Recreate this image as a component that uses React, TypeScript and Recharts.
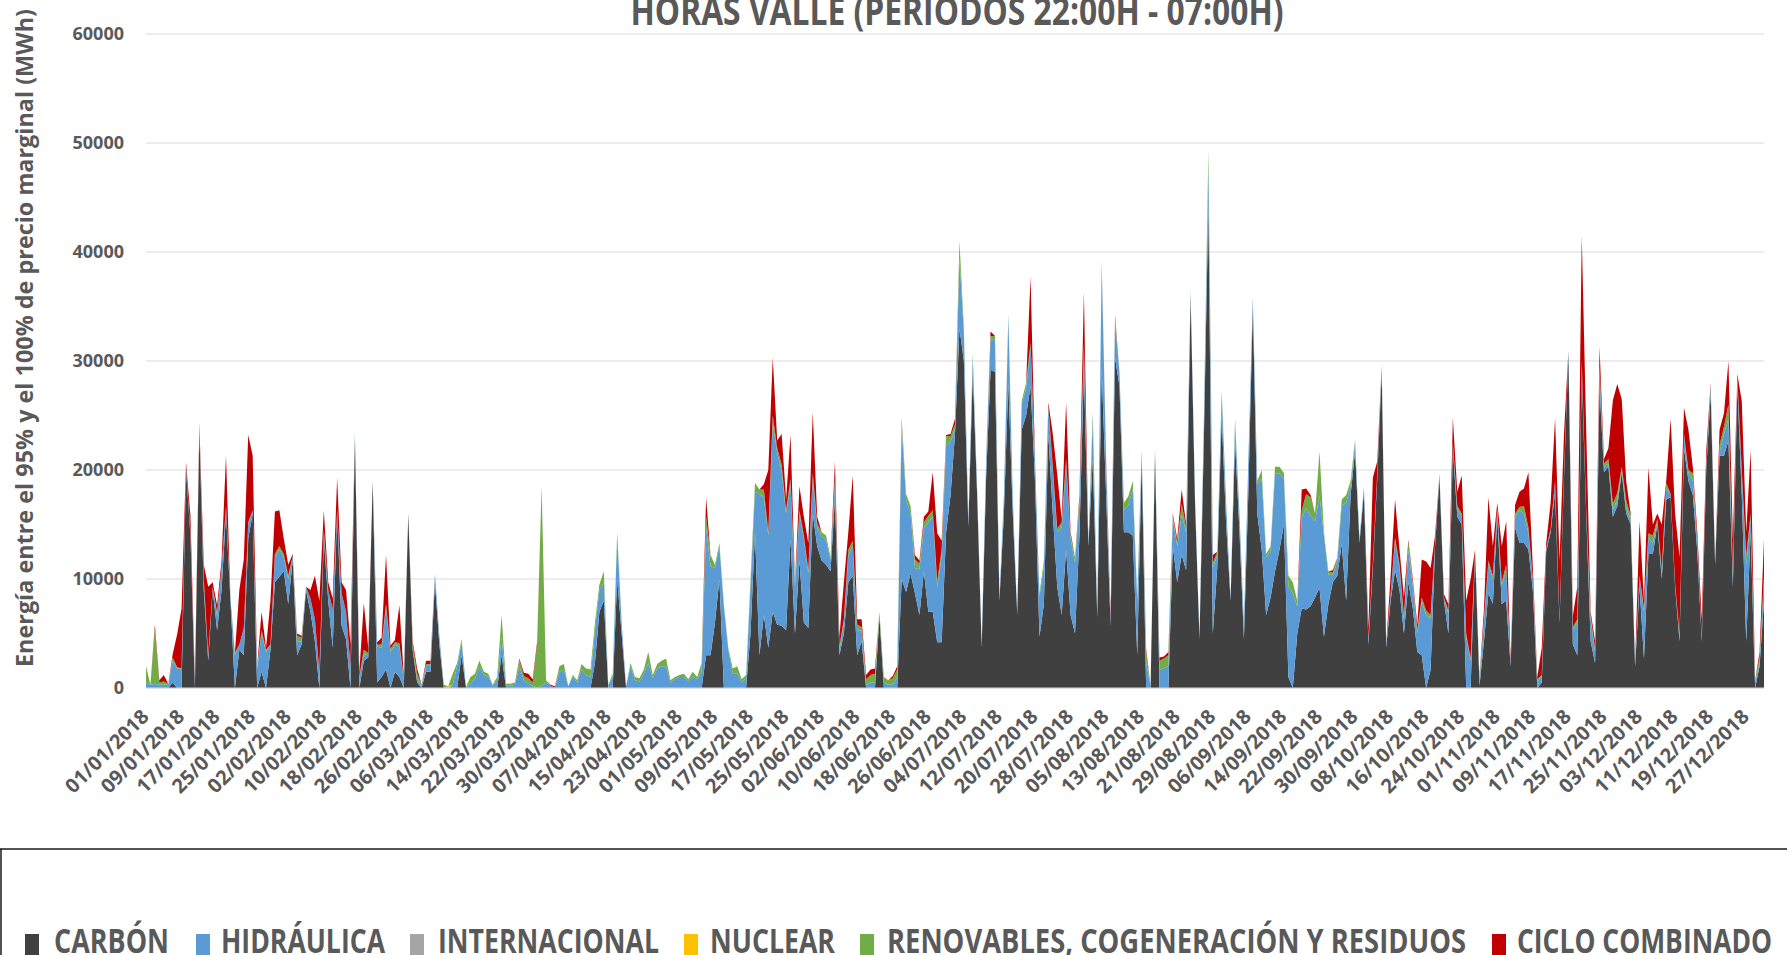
import React from "react"
import { AreaChart, Area, XAxis, YAxis, CartesianGrid } from "recharts"

// daily values (MWh), 01/01/2018 .. 31/12/2018
const carbon = [
  0, 0, 0, 0, 0, 0, 500, 0, 0, 20000,
  14000, 0, 23500, 9000, 2500, 9000, 5300, 9000, 16000, 8000,
  0, 3500, 3000, 13700, 16000, 0, 1500, 0, 3500, 9700,
  10200, 10700, 7700, 11700, 3000, 4000, 9000, 7000, 4300, 0,
  13700, 8000, 3700, 16000, 5700, 4500, 0, 23000, 0, 2500,
  2800, 19000, 500, 1000, 1700, 0, 1500, 1000, 0, 16000,
  3500, 500, 0, 1500, 1500, 9700, 4000, 0, 0, 0,
  0, 3000, 0, 0, 0, 0, 0, 0, 0, 0,
  3000, 0, 0, 0, 0, 0, 0, 0, 0, 0,
  0, 0, 0, 0, 0, 0, 0, 0, 0, 0,
  0, 2300, 7000, 8000, 0, 0, 10000, 5000, 0, 0,
  0, 0, 0, 0, 0, 0, 0, 0, 0, 0,
  0, 0, 0, 0, 0, 0, 3000, 3000, 6000, 10000,
  0, 0, 0, 0, 0, 0, 5000, 14300, 3000, 6700,
  3700, 7000, 5800, 5700, 5300, 13700, 5000, 11700, 6000, 5500,
  16000, 13000, 11700, 11300, 10700, 17500, 3000, 5000, 9700, 10300,
  3000, 4300, 0, 0, 0, 6500, 0, 0, 0, 0,
  10000, 8800, 10500, 8700, 6700, 10700, 7000, 7000, 4200, 4200,
  14300, 17700, 23300, 33000, 30000, 14800, 29000, 17500, 3700, 19300,
  29200, 29000, 8000, 16000, 28000, 16000, 6700, 23700, 25000, 27700,
  19000, 4700, 7700, 23300, 16000, 9300, 6700, 12700, 6700, 5000,
  14000, 29300, 13000, 21000, 6500, 29300, 17700, 5700, 30300, 27700,
  14300, 14300, 14000, 3000, 21000, 0, 0, 21500, 0, 0,
  0, 13000, 9700, 12200, 10800, 36000, 17000, 4500, 23000, 44300,
  5000, 11000, 25000, 15000, 8000, 22700, 14300, 4500, 18000, 35000,
  16000, 12700, 6700, 8300, 10700, 12700, 15000, 1000, 0, 5000,
  7300, 7200, 7500, 8300, 9200, 4700, 7700, 9700, 10300, 13200,
  8000, 17700, 21700, 13300, 18000, 4000, 11000, 19300, 29000, 3700,
  8000, 10800, 9000, 5000, 9700, 7300, 3300, 3000, 0, 1700,
  13000, 19300, 8000, 5000, 22000, 15700, 15000, 0, 0, 12500,
  200, 4300, 8700, 7700, 15700, 7700, 8000, 2000, 14700, 13300,
  13300, 12700, 9000, 0, 500, 12500, 14300, 18000, 6000, 19300,
  30600, 4000, 3000, 29000, 16000, 4300, 2300, 27700, 19800, 20300,
  15700, 16700, 19800, 16000, 15000, 2000, 9300, 2700, 12300, 12300,
  15000, 10000, 17300, 17500, 9300, 4300, 22000, 19000, 17700, 12500,
  4300, 20000, 27000, 11300, 21300, 21300, 22700, 9300, 27700, 17700,
  4300, 14300, 0, 2000, 8000,
]

const hidraulica = [
  500, 300, 400, 300, 300, 300, 2000, 1800, 1800, 300,
  300, 500, 400, 700, 500, 300, 1300, 2000, 700, 300,
  3000, 500, 2500, 1300, 300, 1800, 3500, 3300, 500, 2300,
  2500, 1300, 2300, 400, 1300, 300, 300, 1200, 2000, 1500,
  600, 1000, 3500, 300, 3000, 2500, 2000, 500, 1000, 600,
  200, 0, 3300, 2700, 5700, 3300, 2500, 2800, 700, 0,
  0, 300, 200, 500, 700, 800, 800, 0, 0, 300,
  2000, 1200, 0, 400, 800, 2000, 1200, 1000, 200, 700,
  1700, 200, 200, 300, 2000, 700, 400, 200, 0, 200,
  500, 200, 50, 1500, 1700, 150, 1000, 500, 1700, 1200,
  1000, 3000, 2000, 1700, 200, 1000, 4000, 1000, 150, 2000,
  700, 600, 1300, 2300, 900, 1800, 2000, 2000, 500, 800,
  1000, 1000, 600, 1100, 800, 1500, 11700, 8200, 5000, 3000,
  7500, 3500, 1300, 1300, 500, 900, 4500, 3700, 14800, 10800,
  10300, 17300, 15800, 14200, 10700, 5000, 4300, 4300, 7700, 5000,
  3200, 1700, 2200, 2300, 1000, 1500, 500, 1000, 2500, 2700,
  2300, 1000, 300, 500, 500, 0, 500, 300, 300, 1000,
  14000, 8500, 5500, 2300, 4200, 4000, 8200, 8700, 5000, 8000,
  8000, 4900, 500, 6500, 2500, 500, 1300, 500, 300, 1500,
  2800, 3000, 300, 1500, 6000, 1500, 0, 2300, 2500, 3700,
  2000, 3700, 3500, 2300, 4000, 5000, 8000, 8000, 7000, 6500,
  3000, 2000, 300, 3500, 200, 9500, 3000, 500, 3300, 1300,
  2000, 2500, 4200, 5000, 500, 2300, 200, 500, 1700, 1800,
  2000, 2500, 3300, 3700, 3500, 500, 500, 200, 1500, 3500,
  6000, 1200, 2000, 2000, 200, 1700, 1500, 1200, 3000, 800,
  2700, 6500, 5300, 4300, 9000, 7000, 4200, 8300, 8700, 2500,
  8300, 9300, 8300, 7000, 8500, 9300, 2700, 700, 1300, 3500,
  9000, 800, 900, 300, 500, 500, 500, 500, 500, 300,
  600, 2700, 2000, 1300, 3000, 2000, 1700, 5000, 6700, 4700,
  300, 400, 300, 1800, 500, 700, 700, 4700, 2500, 200,
  500, 1700, 2700, 2300, 800, 1700, 2800, 300, 1000, 3000,
  2700, 1500, 1000, 500, 700, 300, 300, 1000, 300, 300,
  400, 1300, 3000, 700, 300, 2000, 1000, 1500, 500, 300,
  700, 500, 300, 500, 500, 300, 1000, 4300, 1500, 1000,
  300, 500, 1000, 300, 300, 300, 1000, 700, 1300, 1000,
  300, 500, 500, 300, 300, 2000, 2000, 1000, 800, 2000,
  7000, 1300, 500, 300, 2000,
]

const renovables = [
  1500, 0, 5000, 200, 300, 100, 300, 100, 0, 0,
  0, 0, 0, 300, 0, 0, 300, 0, 0, 0,
  200, 0, 0, 200, 0, 200, 300, 200, 0, 300,
  300, 300, 300, 0, 500, 300, 0, 0, 0, 0,
  200, 0, 0, 0, 0, 0, 0, 0, 0, 400,
  200, 0, 200, 300, 300, 300, 200, 300, 200, 0,
  500, 500, 100, 200, 0, 0, 0, 300, 0, 1000,
  300, 300, 100, 600, 500, 500, 300, 300, 100, 300,
  2000, 200, 200, 200, 600, 400, 500, 300, 4000, 18300,
  200, 0, 0, 500, 500, 0, 200, 200, 500, 600,
  700, 700, 500, 1000, 100, 300, 300, 0, 0, 300,
  300, 300, 400, 1000, 300, 400, 500, 700, 200, 200,
  200, 300, 200, 400, 200, 800, 1000, 1000, 300, 300,
  200, 200, 500, 700, 300, 300, 500, 800, 400, 700,
  300, 700, 400, 600, 300, 500, 400, 300, 300, 300,
  500, 400, 400, 400, 300, 300, 300, 300, 500, 500,
  500, 300, 500, 700, 800, 500, 500, 400, 600, 700,
  500, 500, 700, 800, 500, 500, 600, 600, 500, 500,
  800, 500, 400, 1500, 500, 0, 400, 0, 0, 200,
  300, 300, 0, 200, 300, 0, 0, 300, 500, 300,
  0, 300, 500, 300, 300, 300, 500, 300, 300, 500,
  300, 300, 0, 800, 0, 400, 0, 0, 300, 0,
  700, 800, 800, 300, 0, 1000, 0, 0, 800, 900,
  1000, 300, 300, 1000, 400, 0, 0, 0, 500, 1500,
  500, 300, 300, 0, 0, 300, 200, 300, 0, 0,
  300, 800, 300, 400, 600, 600, 500, 1000, 1000, 500,
  700, 1300, 1700, 700, 4000, 300, 300, 200, 400, 600,
  700, 500, 200, 100, 0, 0, 0, 0, 200, 0,
  0, 300, 300, 300, 700, 400, 300, 300, 400, 300,
  0, 0, 0, 300, 0, 300, 300, 300, 200, 0,
  300, 300, 300, 300, 0, 300, 500, 0, 300, 300,
  700, 500, 0, 300, 0, 0, 0, 0, 0, 0,
  0, 300, 300, 300, 0, 300, 300, 300, 300, 400,
  500, 700, 200, 700, 300, 0, 0, 300, 400, 700,
  200, 300, 500, 0, 0, 300, 300, 300, 700, 0,
  0, 0, 300, 0, 700, 700, 1300, 300, 0, 300,
  800, 400, 200, 500, 300,
]

const cicloCombinado = [
  0, 0, 400, 200, 600, 0, 300, 3000, 5500, 400,
  1500, 300, 400, 1300, 6300, 400, 700, 700, 4600, 0,
  0, 5000, 6300, 8000, 5000, 0, 1700, 200, 4000, 3900,
  3300, 1400, 1000, 200, 200, 200, 0, 800, 4000, 6500,
  1800, 700, 1000, 3000, 1000, 2000, 2000, 0, 500, 4300,
  500, 0, 200, 600, 4500, 300, 200, 3500, 200, 0,
  300, 500, 0, 300, 300, 0, 0, 0, 0, 0,
  0, 0, 0, 0, 0, 0, 0, 0, 0, 0,
  0, 0, 0, 0, 100, 300, 400, 300, 300, 0,
  0, 100, 100, 0, 0, 0, 0, 0, 0, 0,
  0, 0, 0, 0, 0, 0, 0, 0, 0, 0,
  0, 0, 0, 0, 0, 0, 0, 0, 0, 0,
  0, 0, 0, 0, 0, 0, 1800, 0, 0, 0,
  0, 0, 0, 0, 0, 0, 0, 0, 0, 500,
  5700, 5300, 700, 2800, 1000, 4000, 0, 2200, 1700, 2500,
  5600, 600, 0, 0, 0, 1500, 900, 3400, 1600, 6000,
  500, 700, 400, 500, 500, 0, 0, 0, 200, 300,
  200, 0, 0, 400, 300, 500, 400, 3500, 4500, 800,
  100, 200, 500, 0, 0, 0, 0, 0, 0, 0,
  400, 0, 0, 0, 0, 0, 0, 0, 0, 6000,
  0, 0, 0, 300, 3000, 5000, 300, 5200, 300, 0,
  400, 4700, 0, 0, 0, 0, 300, 500, 300, 0,
  0, 0, 0, 0, 200, 300, 0, 0, 300, 200,
  300, 200, 400, 1300, 300, 0, 0, 0, 0, 0,
  700, 0, 0, 0, 0, 0, 0, 0, 0, 0,
  0, 0, 0, 0, 0, 0, 0, 0, 0, 0,
  1900, 500, 200, 0, 0, 0, 0, 200, 0, 0,
  0, 0, 0, 0, 0, 1000, 7800, 1000, 0, 0,
  1700, 3500, 1400, 1700, 200, 300, 500, 3500, 4500, 4300,
  700, 0, 300, 600, 2300, 1300, 3500, 3000, 7300, 0,
  0, 1000, 5800, 2700, 500, 3300, 4000, 300, 800, 1400,
  1600, 5100, 1000, 200, 2500, 500, 2400, 5800, 5400, 3700,
  0, 1000, 3000, 11500, 7400, 400, 700, 1800, 400, 1000,
  9500, 10000, 6200, 1800, 200, 0, 5000, 700, 6000, 1000,
  500, 4200, 200, 6900, 6400, 7100, 2400, 3700, 500, 800,
  1700, 1200, 200, 0, 1400, 1200, 4000, 3000, 300, 6300,
  2200, 5800, 0, 500, 3400,
]

// only a handful of days carry nuclear / international energy (day index -> MWh)
const nuclearDays: Record<number, number> = { 68: 150 }
const internacionalDays: Record<number, number> = {}

const yTicks = [0, 10000, 20000, 30000, 40000, 50000, 60000]

const SERIES = [
  { key: "carbon", name: "CARBÓN", color: "#404040" },
  { key: "hidraulica", name: "HIDRÁULICA", color: "#5B9BD5" },
  { key: "internacional", name: "INTERNACIONAL", color: "#A5A5A5" },
  { key: "nuclear", name: "NUCLEAR", color: "#FFC000" },
  { key: "renovables", name: "RENOVABLES, COGENERACIÓN Y RESIDUOS", color: "#70AD47" },
  { key: "ciclo", name: "CICLO COMBINADO", color: "#C00000" },
]

const pad = (n: number) => String(n).padStart(2, "0")
const dayLabel = (i: number) => {
  const d = new Date(Date.UTC(2018, 0, 1 + i))
  return `${pad(d.getUTCDate())}/${pad(d.getUTCMonth() + 1)}/${d.getUTCFullYear()}`
}

const data = carbon.map((c, i) => ({
  date: dayLabel(i),
  carbon: c,
  hidraulica: hidraulica[i],
  internacional: internacionalDays[i] || 0,
  nuclear: nuclearDays[i] || 0,
  renovables: renovables[i],
  ciclo: cicloCombinado[i],
}))

const W = 1787
const H = 955
const GRAY = "#595959"
const FONT = "'Open Sans', 'Liberation Sans', sans-serif"

const DateTick = ({ x, y, payload }: any) => {
  const tx = x + 4
  const ty = y + 22
  return (
    <text
      x={tx}
      y={ty}
      transform={`rotate(-45, ${tx}, ${ty})`}
      textAnchor="end"
      fontSize={20}
      fontWeight={700}
      fill={GRAY}
      fontFamily={FONT}
    >
      {payload.value}
    </text>
  )
}

// legend layout: square x, text start, text width
const LEGEND_LAYOUT = [
  [25, 54, 115],
  [196, 221, 164],
  [410, 438, 221],
  [684, 710, 125],
  [860, 887, 579],
  [1492, 1517, 255],
]

export default function App() {
  return (
    <div style={{ position: "absolute", left: 0, top: 0, width: W, height: H, background: "#fff" }}>
      <AreaChart width={W} height={H} data={data} margin={{ top: 34, right: 23, bottom: 107, left: 0 }}>
        <CartesianGrid vertical={false} stroke="#d9d9d9" />
        <XAxis
          dataKey="date"
          interval={7}
          height={160}
          tick={<DateTick />}
          tickLine={false}
          axisLine={{ stroke: "#d9d9d9" }}
        />
        <YAxis
          width={146}
          domain={[0, 60000]}
          ticks={yTicks}
          tickLine={false}
          axisLine={false}
          tickMargin={16}
          tick={{ fontSize: 18, fontWeight: 700, fill: GRAY, fontFamily: FONT }}
        />
        {SERIES.map((s) => (
          <Area
            key={s.key}
            type="linear"
            dataKey={s.key}
            name={s.name}
            stackId="1"
            stroke="none"
            fill={s.color}
            fillOpacity={1}
            dot={false}
            activeDot={false}
            isAnimationActive={false}
          />
        ))}
      </AreaChart>

      {/* title (cut by the top edge, as in the source), axis title and the boxed legend */}
      <svg width={W} height={H} style={{ position: "absolute", left: 0, top: 0, pointerEvents: "none" }}>
        <text
          x={957}
          y={25}
          textAnchor="middle"
          fontSize={40}
          fontWeight={700}
          fill={GRAY}
          fontFamily={FONT}
          textLength={653}
          lengthAdjust="spacingAndGlyphs"
        >
          HORAS VALLE (PERIODOS 22:00H - 07:00H)
        </text>
        <text
          transform="translate(33, 338) rotate(-90)"
          textAnchor="middle"
          fontSize={24}
          fontWeight={700}
          fill={GRAY}
          fontFamily={FONT}
          textLength={658}
          lengthAdjust="spacingAndGlyphs"
        >
          Energía entre el 95% y el 100% de precio marginal (MWh)
        </text>
        <line x1={0} y1={849} x2={W} y2={849} stroke="#1a1a1a" strokeWidth={1.5} />
        <line x1={1} y1={849} x2={1} y2={H} stroke="#1a1a1a" strokeWidth={1.5} />
        {SERIES.map((s, i) => {
          const [sx, tx, tw] = LEGEND_LAYOUT[i]
          return (
            <g key={s.key}>
              <rect x={sx} y={934} width={14} height={21} fill={s.color} />
              <text
                x={tx}
                y={953}
                fontSize={34}
                fontWeight={700}
                fill={GRAY}
                fontFamily={FONT}
                textLength={tw}
                lengthAdjust="spacingAndGlyphs"
              >
                {s.name}
              </text>
            </g>
          )
        })}
      </svg>
    </div>
  )
}
